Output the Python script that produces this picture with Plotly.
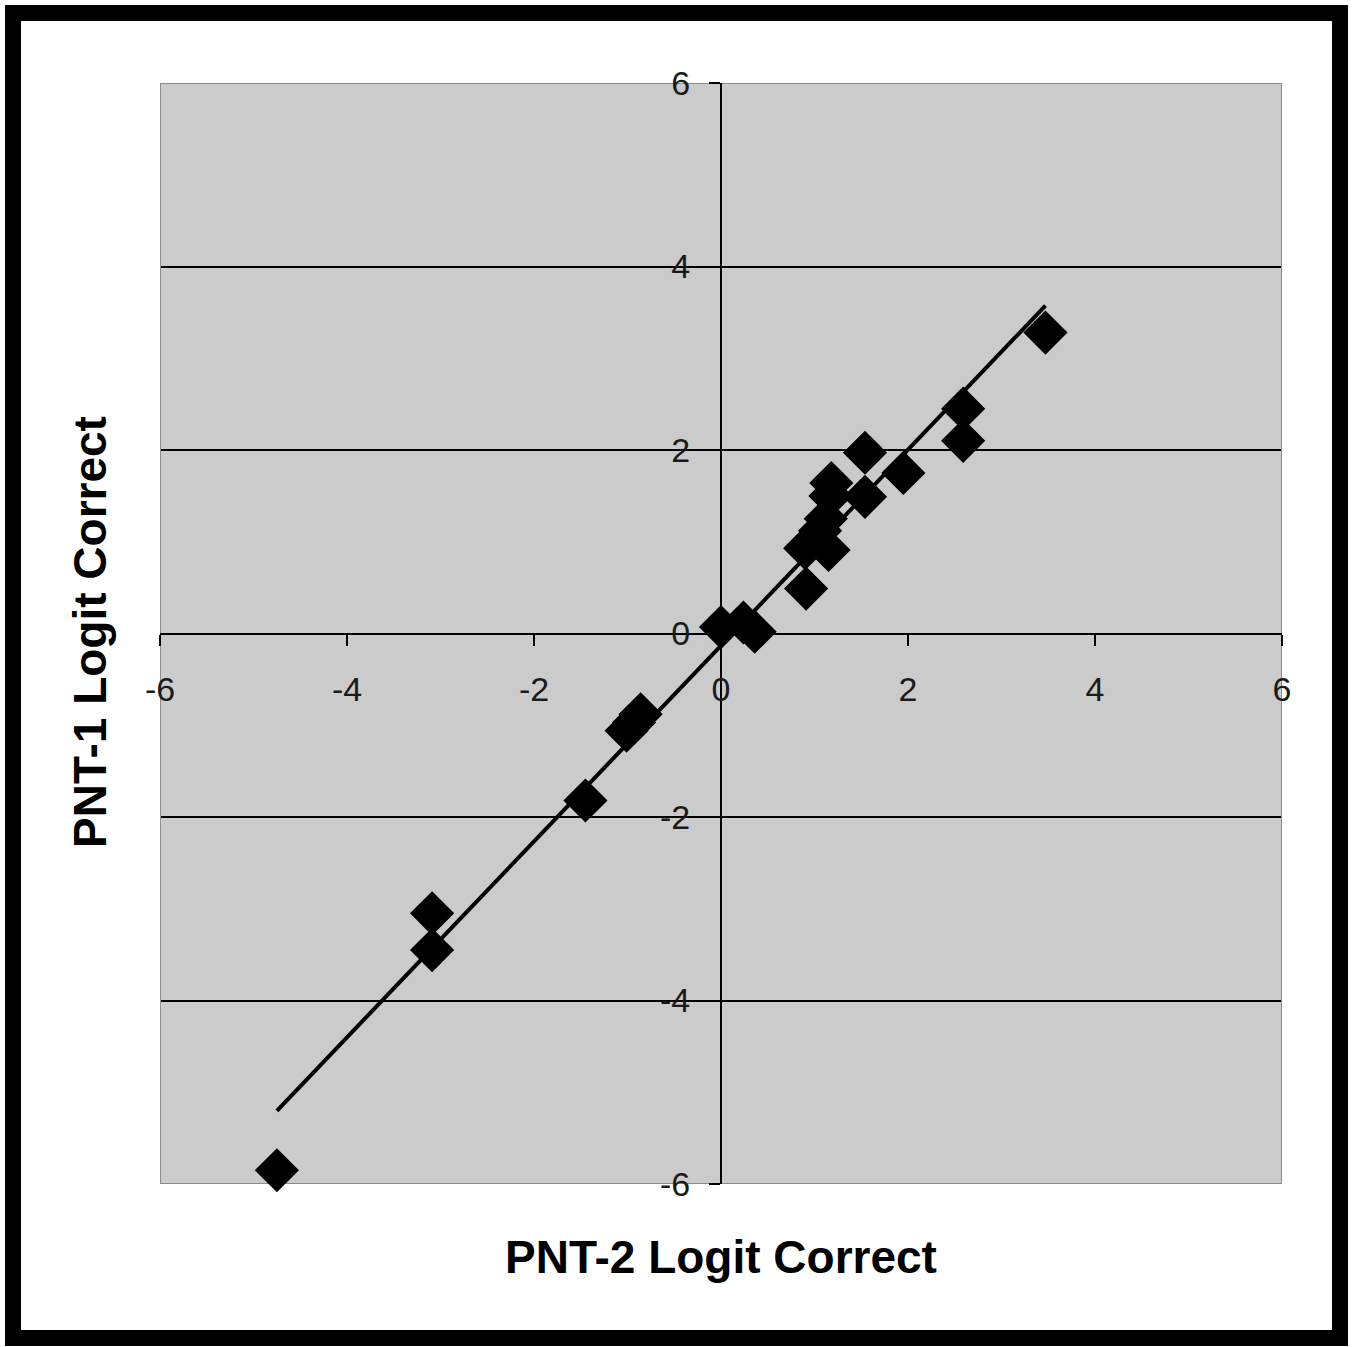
import numpy as np
import plotly.graph_objects as go

# PNT-2 (x) versus PNT-1 (y) logit-transformed proportion correct
pnt2_logit = [-4.75, -3.09, -3.09, -1.45, -1.01, -0.93, -0.86, 0.00, 0.24, 0.36,
              0.91, 0.90, 1.15, 1.06, 1.12, 1.17, 1.18, 1.54, 1.54, 1.95,
              2.59, 2.59, 3.47]
pnt1_logit = [-5.85, -3.05, -3.45, -1.82, -1.06, -0.97, -0.88, 0.07, 0.12, 0.02,
              0.49, 0.93, 0.91, 1.12, 1.25, 1.50, 1.64, 1.49, 1.97, 1.75,
              2.45, 2.10, 3.28]

tick_vals = [-6, -4, -2, 0, 2, 4, 6]
tick_text = ["-6", "-4", "-2", "0", "2", "4", "6"]

x_title = "PNT-2 Logit Correct"
y_title = "PNT-1 Logit Correct"

W, H = 1355, 1347
x_dom = [160 / W, 1282 / W]
y_dom = [1 - 1184 / H, 1 - 83 / H]

# linear trendline over the observed x span
slope, intercept = np.polyfit(pnt2_logit, pnt1_logit, 1)
fit_x = [min(pnt2_logit), max(pnt2_logit)]
fit_y = [slope * v + intercept for v in fit_x]

fig = go.Figure()
fig.add_trace(go.Scatter(
    x=fit_x, y=fit_y, mode="lines",
    line=dict(color="black", width=4),
    hoverinfo="skip", showlegend=False,
))
fig.add_trace(go.Scatter(
    x=pnt2_logit, y=pnt1_logit, mode="markers",
    marker=dict(symbol="diamond", size=34, color="black", line=dict(width=0)),
    cliponaxis=False, showlegend=False,
))

tick_font = dict(family="Liberation Sans, Arial, sans-serif", size=34, color="#1a1a1a")
title_font = dict(family="Liberation Sans, Arial, sans-serif", size=46,
                  color="black", weight="bold")

fig.update_layout(
    width=W, height=H,
    margin=dict(l=0, r=0, t=0, b=0, autoexpand=False),
    paper_bgcolor="white",
    plot_bgcolor="#cbcbcb",
    xaxis=dict(
        domain=x_dom, range=[-6, 6],
        anchor="free", position=(y_dom[0] + y_dom[1]) / 2,
        tickvals=tick_vals, ticktext=tick_text,
        ticks="outside", ticklen=11, tickwidth=2, tickcolor="black",
        ticklabelstandoff=15,
        showline=True, linecolor="black", linewidth=2,
        showgrid=False, zeroline=False, tickfont=tick_font,
    ),
    yaxis=dict(
        domain=y_dom, range=[-6, 6],
        anchor="free", position=(x_dom[0] + x_dom[1]) / 2,
        tickvals=tick_vals, ticktext=tick_text,
        ticks="outside", ticklen=11, tickwidth=2, tickcolor="black",
        ticklabelstandoff=12,
        showline=True, linecolor="black", linewidth=2,
        showgrid=True, gridcolor="black", gridwidth=2,
        zeroline=False, tickfont=tick_font,
    ),
    shapes=[
        # plot-area frame
        dict(type="rect", xref="x", yref="y", x0=-6, x1=6, y0=-6, y1=6,
             line=dict(color="#8c8c8c", width=2), layer="between"),
        # outer picture border
        dict(type="rect", xref="paper", yref="paper",
             x0=13 / W, x1=1340 / W, y0=1 - 1338 / H, y1=1 - 13 / H,
             line=dict(color="black", width=16), layer="above"),
    ],
    annotations=[
        dict(text=x_title, xref="paper", yref="paper",
             x=721 / W, y=1 - 1257 / H, showarrow=False,
             xanchor="center", yanchor="middle", font=title_font),
        dict(text=y_title, xref="paper", yref="paper",
             x=90 / W, y=1 - 632 / H, showarrow=False, textangle=-90,
             xanchor="center", yanchor="middle", font=title_font),
    ],
)

fig.write_html("out.html")
